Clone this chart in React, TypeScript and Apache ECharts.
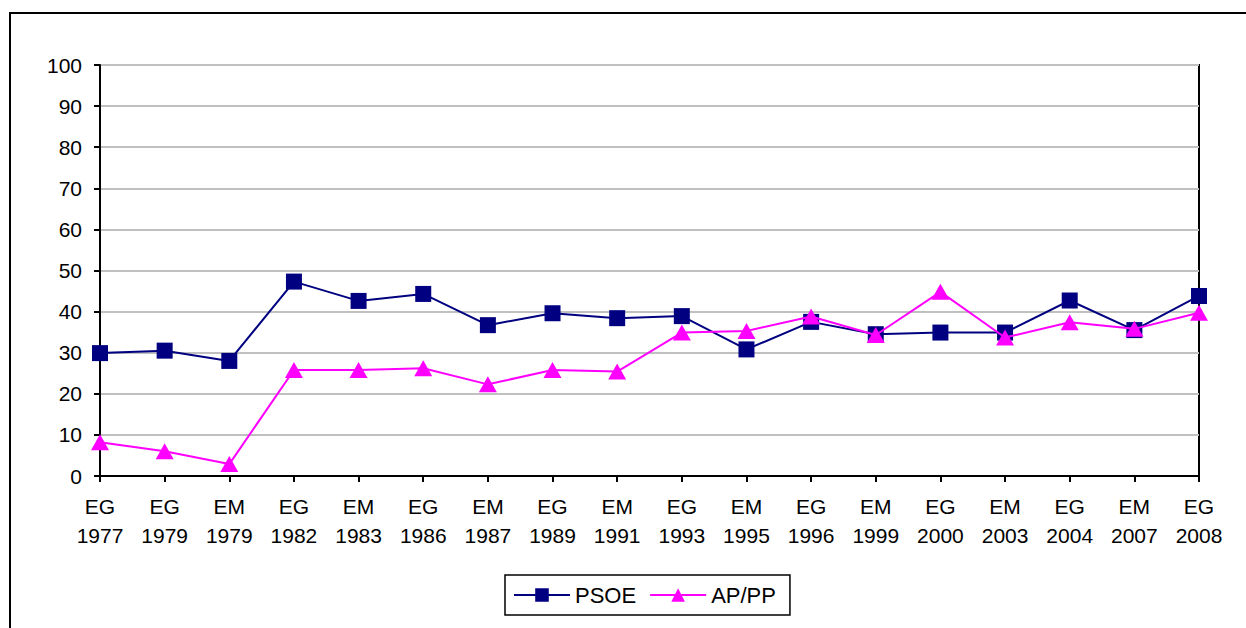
import React, { useEffect, useRef } from "react";
import * as echarts from "echarts";

const categories = [
  "EG\n1977", "EG\n1979", "EM\n1979", "EG\n1982", "EM\n1983", "EG\n1986",
  "EM\n1987", "EG\n1989", "EM\n1991", "EG\n1993", "EM\n1995", "EG\n1996",
  "EM\n1999", "EG\n2000", "EM\n2003", "EG\n2004", "EM\n2007", "EG\n2008",
];
const psoe = [29.9, 30.5, 28.0, 47.3, 42.6, 44.3, 36.7, 39.6, 38.4, 38.9, 30.8, 37.5, 34.5, 34.9, 34.9, 42.7, 35.5, 43.8];
const appp = [8.2, 6.0, 2.9, 25.8, 25.8, 26.2, 22.3, 25.8, 25.4, 34.9, 35.3, 38.8, 34.3, 44.8, 33.7, 37.4, 35.8, 39.7];

const FONT = "'Liberation Sans', Arial, sans-serif";

export default function App() {
  const ref = useRef<HTMLDivElement>(null);
  useEffect(() => {
    if (!ref.current) return;
    const chart = echarts.init(ref.current, undefined, { renderer: "svg" });
    chart.setOption({
      animation: false,
      backgroundColor: "#fff",
      textStyle: { fontFamily: FONT },
      graphic: [
        {
          type: "rect",
          shape: { x: 10, y: 13, width: 1300, height: 700 },
          style: { fill: "none", stroke: "#000", lineWidth: 2 },
          silent: true,
        },
      ],
      grid: {
        left: 100,
        top: 65,
        width: 1099,
        height: 411,
        show: true,
        borderColor: "#000",
        borderWidth: 2,
        backgroundColor: "transparent",
      },
      legend: {
        left: 505,
        top: 575,
        padding: [9, 14, 9, 8],
        borderColor: "#000",
        borderWidth: 1.5,
        itemWidth: 56,
        itemHeight: 17,
        itemGap: 13,
        textStyle: { fontSize: 22, color: "#000", fontFamily: FONT },
        data: ["PSOE", "AP/PP"],
      },
      xAxis: {
        type: "category",
        data: categories,
        boundaryGap: false,
        axisLine: { lineStyle: { color: "#000", width: 2 } },
        axisTick: { show: true, length: 6, lineStyle: { color: "#000", width: 2 } },
        axisLabel: {
          color: "#000",
          fontSize: 21,
          lineHeight: 29,
          margin: 16,
          fontFamily: FONT,
          interval: 0,
        },
        splitLine: { show: false },
      },
      yAxis: {
        type: "value",
        min: 0,
        max: 100,
        interval: 10,
        axisLine: { show: true, lineStyle: { color: "#000", width: 2 } },
        axisTick: { show: true, length: 6, lineStyle: { color: "#000", width: 2 } },
        axisLabel: { color: "#000", fontSize: 21, margin: 18, fontFamily: FONT },
        splitLine: { show: true, lineStyle: { color: "#c0c0c0", width: 2 } },
      },
      series: [
        {
          name: "PSOE",
          type: "line",
          data: psoe,
          symbol: "rect",
          symbolSize: 16,
          itemStyle: { color: "#000080" },
          lineStyle: { color: "#000080", width: 2 },
          z: 3,
        },
        {
          name: "AP/PP",
          type: "line",
          data: appp,
          symbol: "triangle",
          symbolSize: [18, 16],
          itemStyle: { color: "#ff00ff" },
          lineStyle: { color: "#ff00ff", width: 2 },
          z: 4,
        },
      ],
    });
    return () => chart.dispose();
  }, []);
  return (
    <div
      ref={ref}
      style={{ position: "absolute", left: 0, top: 0, width: 1246, height: 628 }}
    />
  );
}
